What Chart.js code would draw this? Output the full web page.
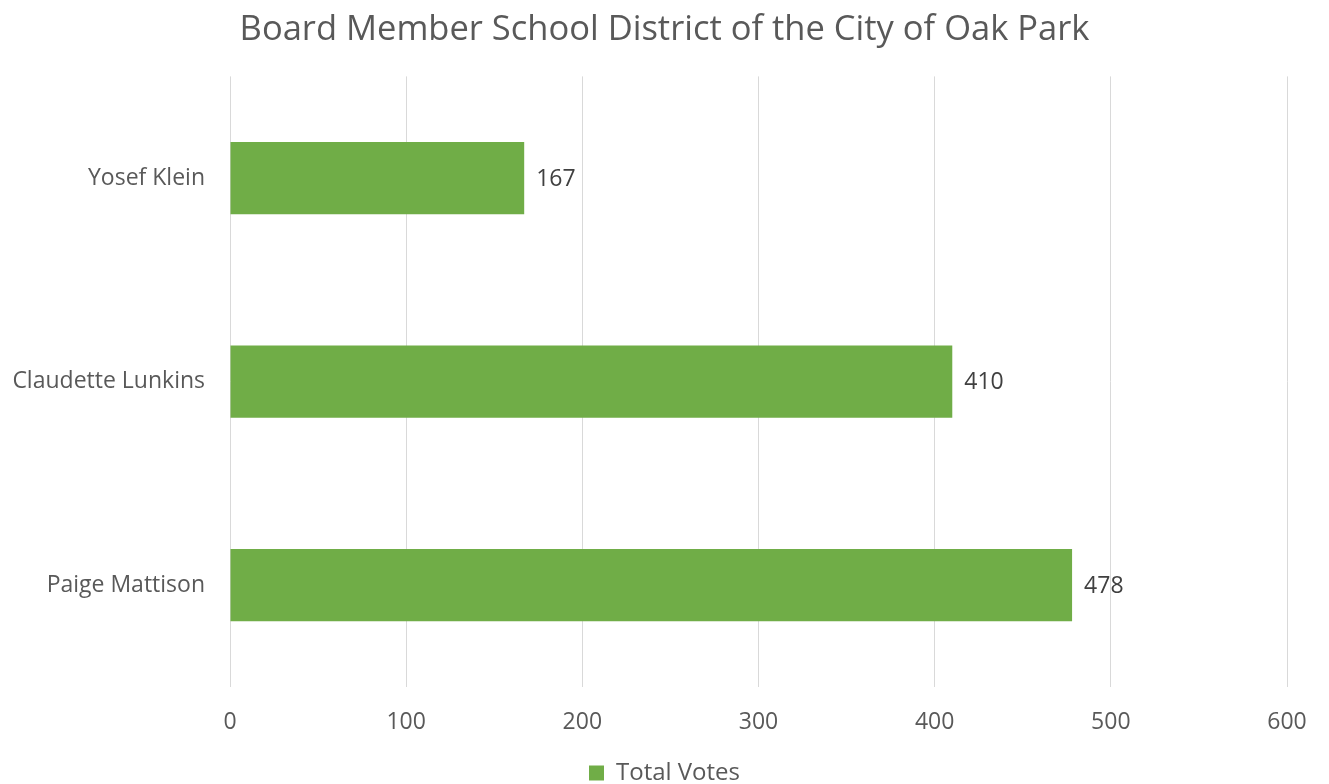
<!DOCTYPE html>
<html>
<head>
<meta charset="utf-8">
<script src="https://cdn.jsdelivr.net/npm/chart.js@4/dist/chart.umd.min.js"></script>
<style>
  html, body { margin: 0; padding: 0; background: #ffffff; }
  #wrap { width: 1329px; height: 784px; position: relative; }
</style>
</head>
<body>
<div id="wrap"><canvas id="c" width="1329" height="784"></canvas></div>
<script>
const categories = ["Yosef Klein", "Claudette Lunkins", "Paige Mattison"];
const totalVotes = [167, 410, 478];
const xTicks = [0, 100, 200, 300, 400, 500, 600];
const seriesName = "Total Votes";
const chartTitle = "Board Member School District of the City of Oak Park";

const FONT = "'Open Sans', 'DejaVu Sans', sans-serif";
const GRAY = "#595959";

const valueLabels = {
  id: 'valueLabels',
  afterDatasetsDraw(chart) {
    const ctx = chart.ctx;
    const meta = chart.getDatasetMeta(0);
    ctx.save();
    ctx.font = "23px " + FONT;
    ctx.fillStyle = "#404040";
    ctx.textAlign = "left";
    ctx.textBaseline = "middle";
    meta.data.forEach((bar, i) => {
      ctx.fillText(String(chart.data.datasets[0].data[i]), bar.x + 12, bar.y + 1);
    });
    ctx.restore();
  }
};

new Chart(document.getElementById('c'), {
  type: 'bar',
  data: {
    labels: categories,
    datasets: [{
      label: seriesName,
      data: totalVotes,
      backgroundColor: "#70AD47",
      borderWidth: 0,
      barPercentage: 0.355,
      categoryPercentage: 1.0
    }]
  },
  options: {
    indexAxis: 'y',
    responsive: false,
    animation: false,
    devicePixelRatio: 1,
    layout: { padding: { left: 0, right: 0, top: 0, bottom: -11 } },
    scales: {
      x: {
        min: 0, max: 600,
        afterBuildTicks(axis) { axis.ticks = xTicks.map(v => ({ value: v })); },
        grid: { color: "#D9D9D9", lineWidth: 1, drawTicks: false },
        border: { display: false },
        ticks: { color: GRAY, font: { family: FONT, size: 23 }, padding: 22 },
        afterFit(axis) { axis.height = 74; }
      },
      y: {
        grid: { display: false, drawTicks: false },
        border: { display: false },
        ticks: { color: GRAY, font: { family: FONT, size: 23 }, padding: 25 },
        afterFit(axis) { axis.width = 230; }
      },
      yRight: {
        axis: 'y',
        position: 'right',
        grid: { display: false, drawTicks: false },
        border: { display: false },
        ticks: { display: false },
        afterFit(axis) { axis.width = 42; }
      }
    },
    plugins: {
      title: {
        display: true,
        text: chartTitle,
        color: GRAY,
        font: { family: FONT, size: 34.5, weight: 'normal' },
        padding: { top: 9, bottom: 26 }
      },
      legend: {
        display: true,
        position: 'bottom',
        labels: {
          color: GRAY,
          font: { family: FONT, size: 24 },
          boxWidth: 15,
          boxHeight: 15,
          padding: 0
        }
      },
      tooltip: { enabled: false }
    }
  },
  plugins: [valueLabels]
});
</script>
</body>
</html>
